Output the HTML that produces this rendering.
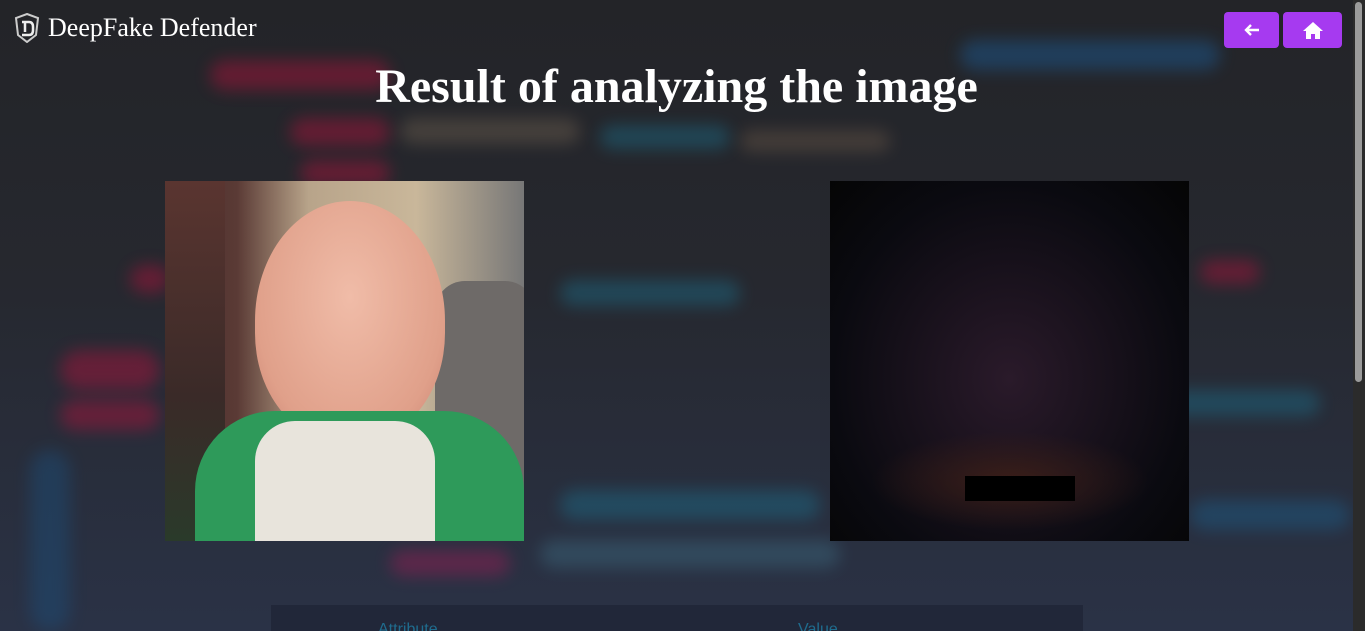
<!DOCTYPE html>
<html><head><meta charset="utf-8"><style>
*{margin:0;padding:0;box-sizing:border-box}
html,body{width:1365px;height:631px;overflow:hidden}
body{background:#24262c;font-family:"Liberation Serif",serif;position:relative}
.bg{position:absolute;left:0;top:0;width:1353px;height:631px;overflow:hidden;background:linear-gradient(180deg,#232428 0%,#26282f 45%,#2a3246 100%)}
.blob{position:absolute;border-radius:20px;filter:blur(8px);opacity:.45}
.sb{position:absolute;right:0;top:0;width:12px;height:631px;background:#2b2b2b}
.thumb{position:absolute;right:3px;top:2px;width:7px;height:380px;background:#9b9b9b;border-radius:4px}
</style></head><body>
<div class="bg">
<div class="blob" style="left:210px;top:60px;width:180px;height:30px;background:#b0123c"></div>
<div class="blob" style="left:290px;top:118px;width:100px;height:28px;background:#b0123c"></div>
<div class="blob" style="left:300px;top:160px;width:90px;height:26px;background:#b0123c"></div>
<div class="blob" style="left:400px;top:118px;width:180px;height:26px;background:#6e6050"></div>
<div class="blob" style="left:600px;top:125px;width:130px;height:24px;background:#1c6e8a"></div>
<div class="blob" style="left:740px;top:130px;width:150px;height:22px;background:#6a5848"></div>
<div class="blob" style="left:960px;top:40px;width:260px;height:30px;background:#1c5e9a"></div>
<div class="blob" style="left:130px;top:265px;width:40px;height:28px;background:#b0123c"></div>
<div class="blob" style="left:60px;top:350px;width:100px;height:40px;background:#b0123c"></div>
<div class="blob" style="left:60px;top:400px;width:100px;height:30px;background:#b0123c"></div>
<div class="blob" style="left:560px;top:280px;width:180px;height:26px;background:#1c6e8a"></div>
<div class="blob" style="left:1200px;top:260px;width:60px;height:24px;background:#b0123c"></div>
<div class="blob" style="left:1100px;top:390px;width:220px;height:26px;background:#1c6e8a"></div>
<div class="blob" style="left:560px;top:490px;width:260px;height:30px;background:#1c6e8a"></div>
<div class="blob" style="left:540px;top:540px;width:300px;height:28px;background:#3d6a80"></div>
<div class="blob" style="left:390px;top:550px;width:120px;height:26px;background:#9b1d55"></div>
<div class="blob" style="left:1190px;top:500px;width:160px;height:30px;background:#1c5e8a"></div>
<div class="blob" style="left:30px;top:450px;width:40px;height:181px;background:#1c4e7a"></div>
</div>
<div class="sb"><div class="thumb"></div></div>

<div style="position:absolute;left:14px;top:13px;display:flex;align-items:center;color:#fff;font-size:26px">
<svg width="26" height="30" viewBox="0 0 26 30"><path d="M13 1 L24 5 L22 22 L13 29 L4 22 L2 5 Z" fill="none" stroke="#ccc" stroke-width="2"/><path d="M8 9 H15 Q19 9 19 14 V17 Q19 22 15 22 H8 M11 9 V19" fill="none" stroke="#eee" stroke-width="2.5"/></svg>
<span style="margin-left:8px">DeepFake Defender</span></div>

<div style="position:absolute;left:1224px;top:12px;width:55px;height:36px;background:#a63af0;border-radius:4px;display:flex;align-items:center;justify-content:center">
<svg width="16" height="14" viewBox="0 0 16 14"><path d="M15 7 H2 M7 2 L2 7 L7 12" fill="none" stroke="#fff" stroke-width="2.4"/></svg></div>
<div style="position:absolute;left:1283px;top:12px;width:59px;height:36px;background:#a63af0;border-radius:4px;display:flex;align-items:center;justify-content:center">
<svg width="20" height="17" viewBox="0 0 20 17"><path d="M10 0 L20 9 H17 V17 H12 V12 H8 V17 H3 V9 H0 Z" fill="#fff"/></svg></div>

<h1 style="position:absolute;left:0;width:1353px;top:59px;text-align:center;color:#fff;font-size:48px;font-weight:bold">Result of analyzing the image</h1>

<div style="position:absolute;left:165px;top:181px;width:359px;height:360px;overflow:hidden;background:linear-gradient(90deg,#4a2f2c 0%,#5a3a35 20%,#b8a48a 40%,#c9b79a 70%,#777 100%)">
<div style="position:absolute;left:0;top:0;width:60px;height:360px;background:linear-gradient(180deg,#5a3530,#3a2a28 60%,#2a3a2a)"></div>
<div style="position:absolute;left:270px;top:100px;width:100px;height:260px;background:#6e6a68;border-radius:30px"></div>
<div style="position:absolute;left:90px;top:20px;width:190px;height:240px;background:radial-gradient(ellipse at 50% 40%,#f0bca8,#e0a08a 70%,#c88070);border-radius:50% 50% 45% 45%"></div>
<div style="position:absolute;left:30px;top:230px;width:329px;height:140px;background:#2e9a5a;border-radius:80px 80px 0 0"></div>
<div style="position:absolute;left:90px;top:240px;width:180px;height:120px;background:#e8e4dc;border-radius:40px 40px 0 0"></div>
</div>

<div style="position:absolute;left:830px;top:181px;width:359px;height:360px;background:radial-gradient(ellipse at 50% 55%,#2a1a2a,#0a0a10 70%,#050505)">
<div style="position:absolute;left:40px;top:250px;width:280px;height:100px;background:radial-gradient(ellipse,#3a1e18,transparent 70%)"></div>
<div style="position:absolute;left:135px;top:295px;width:110px;height:25px;background:#000"></div>
</div>

<div style="position:absolute;left:271px;top:605px;width:812px;height:30px;background:#212739">
<span style="position:absolute;left:107px;top:16px;color:#1f6c8e;font:16px 'Liberation Sans',sans-serif">Attribute</span>
<span style="position:absolute;left:527px;top:16px;color:#1f6c8e;font:16px 'Liberation Sans',sans-serif">Value</span>
</div>
</body></html>
